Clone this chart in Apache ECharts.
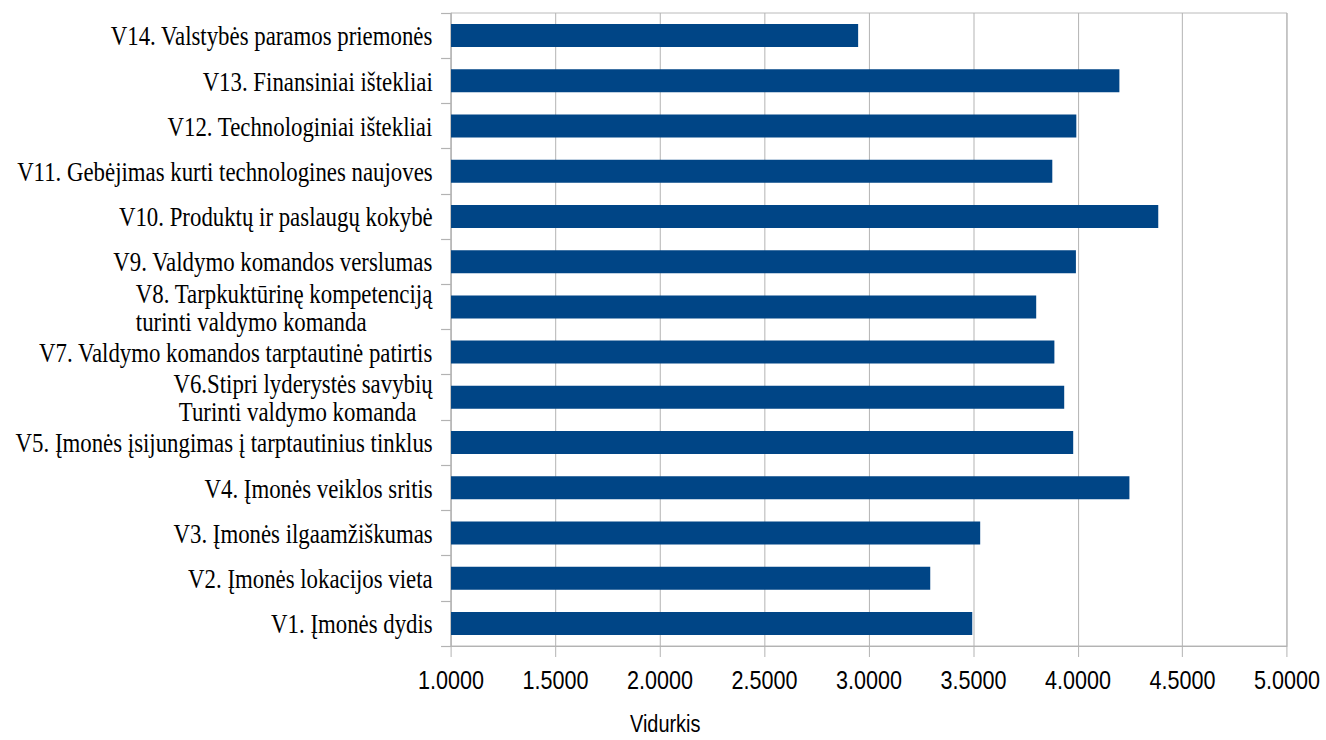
<!DOCTYPE html>
<html>
<head>
<meta charset="utf-8">
<script src="https://cdn.jsdelivr.net/npm/echarts@6/dist/echarts.min.js"></script>
<style>
html, body { margin: 0; padding: 0; overflow: hidden; background: #fff; width: 1326px; height: 740px; }
#chart { width: 1598px; height: 740px; transform: scaleX(0.83); transform-origin: 0 0; }
</style>
</head>
<body>
<div id="chart"></div>
<script>
// Categories listed bottom-to-top (V1 at the bottom)
const categories = [
  'V1. Įmonės dydis',
  'V2. Įmonės lokacijos vieta',
  'V3. Įmonės ilgaamžiškumas',
  'V4. Įmonės veiklos sritis',
  'V5. Įmonės įsijungimas į tarptautinius tinklus',
  'V6.Stipri lyderystės savybių\n Turinti valdymo komanda',
  'V7. Valdymo komandos tarptautinė patirtis',
  'V8. Tarpkuktūrinę kompetenciją\nturinti valdymo komanda',
  'V9. Valdymo komandos verslumas',
  'V10. Produktų ir paslaugų kokybė',
  'V11. Gebėjimas kurti technologines naujoves',
  'V12. Technologiniai ištekliai',
  'V13. Finansiniai ištekliai',
  'V14. Valstybės paramos priemonės'
];
const values = [3.494, 3.293, 3.532, 4.246, 3.977, 3.934, 3.887, 3.800, 3.990, 4.384, 3.877, 3.992, 4.198, 2.948];
const axisName = 'Vidurkis';
const xMin = 1, xMax = 5, xInterval = 0.5;

const chart = echarts.init(document.getElementById('chart'), null, { renderer: 'svg' });
const grey = '#b3b3b3';
chart.setOption({
  animation: false,
  backgroundColor: '#ffffff',
  title: {
    text: axisName,
    left: 759,
    top: 712,
    padding: 0,
    textStyle: { fontFamily: 'Liberation Sans', fontSize: 24, fontWeight: 'normal', color: '#000', lineHeight: 24 }
  },
  grid: {
    left: 543.4, right: 47.4, top: 13, bottom: 94,
    show: true, borderColor: grey, borderWidth: 1, backgroundColor: 'transparent',
    containLabel: false
  },
  xAxis: {
    type: 'value',
    min: xMin, max: xMax, interval: xInterval,
    axisLine: { show: true, lineStyle: { color: grey, width: 1.2 } },
    axisTick: { show: true, length: 11, lineStyle: { color: grey, width: 1.2 } },
    splitLine: { show: true, lineStyle: { color: grey, width: 1.2 } },
    axisLabel: {
      margin: 21,
      fontFamily: 'Liberation Sans', fontSize: 26, color: '#000',
      formatter: v => v.toFixed(4)
    }
  },
  yAxis: {
    type: 'category',
    data: categories,
    axisLine: { show: true, lineStyle: { color: grey, width: 1.2 } },
    axisTick: { show: true, length: 12, lineStyle: { color: grey, width: 1.2 } },
    splitLine: { show: false },
    axisLabel: {
      margin: 22,
      interval: 0,
      fontFamily: 'Liberation Serif', fontSize: 27.5, color: '#000',
      formatter: v => v.split('\n').map(l => '{a|' + l + '}').join('\n'),
      rich: { a: { fontFamily: 'Liberation Serif', fontSize: 27.5, lineHeight: 28, color: '#000', align: 'left' } }
    }
  },
  series: [{
    type: 'bar',
    data: values,
    barWidth: 23,
    itemStyle: { color: '#004586' }
  }]
});
</script>
</body>
</html>
